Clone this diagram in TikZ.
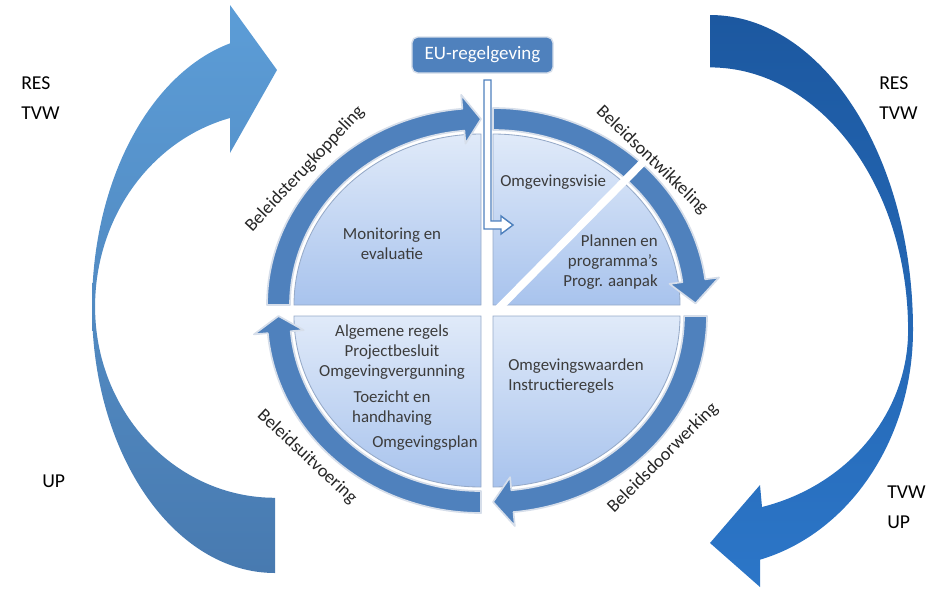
\documentclass[tikz,border=0pt]{standalone}
\usepackage{fontspec}
\setmainfont{Carlito}
\definecolor{ringblue}{RGB}{79,129,189}
\definecolor{ringedge}{RGB}{214,222,234}
\definecolor{quadtop}{RGB}{224,234,249}
\definecolor{quadbot}{RGB}{168,195,237}
\definecolor{quadedge}{RGB}{150,170,200}
\definecolor{lefttop}{RGB}{92,157,215}
\definecolor{leftbot}{RGB}{72,122,176}
\definecolor{righttop}{RGB}{28,88,160}
\definecolor{rightbot}{RGB}{44,118,200}
\definecolor{textgray}{RGB}{60,60,60}

\begin{document}
\begin{tikzpicture}[x=0.025cm,y=-0.025cm,
  ringarrow/.style={fill=ringblue,draw=ringedge,line width=1.2pt,line join=round},
  quadrant/.style={top color=quadtop,bottom color=quadbot,draw=quadedge,line width=0.6pt},
  quadtext/.style={text=textgray,font=\fontsize{12}{14.2}\selectfont,align=center,inner sep=0pt},
  ringlabel/.style={text=black!85,font=\fontsize{13}{15}\selectfont,inner sep=0pt},
  sidelabel/.style={font=\fontsize{14}{21}\selectfont,align=left,anchor=west,inner sep=0pt},
  eubox/.style={rounded corners=4pt,fill=ringblue,draw=ringedge,line width=1pt,text=white,
    minimum width=3.525cm,minimum height=0.9cm,font=\fontsize{13.5}{16}\selectfont}]
\useasboundingbox (0,0) rectangle (940,588);

% outer arrows
\shade[top color=lefttop,bottom color=leftbot]
  (275,573) arc[start angle=90,end angle=180,x radius=183,y radius=266]
  arc[start angle=180,end angle=255.8,x radius=183,y radius=272]
  -- (230,5) -- (277,70) -- (230,153) -- (230,118)
  arc[start angle=255.5,end angle=180,x radius=180,y radius=195]
  arc[start angle=180,end angle=90,x radius=180,y radius=191] -- cycle;
\shade[top color=righttop,bottom color=rightbot]
  (710,15) arc[start angle=-90,end angle=0,x radius=203,y radius=315]
  arc[start angle=0,end angle=75.7,x radius=203,y radius=237]
  -- (760,587) -- (710,543) -- (760,485) -- (762,507)
  arc[start angle=74.8,end angle=0,x radius=198,y radius=183]
  arc[start angle=0,end angle=-90,x radius=198,y radius=263] -- cycle;

% cycle
\foreach \cx/\cy/\s/\h/\t in {481/305/180/265/270,493/305/270/352.5/359.5,493/316/0/84.5/90,481/316/90/175/180}
{
  \begin{scope}[shift={(\cx,\cy)}]
    \draw[quadrant] (0,0) -- (\s:187 and 171) arc[start angle=\s,delta angle=90,x radius=187,y radius=171] -- cycle;
    \draw[ringarrow] (\s:214 and 197) arc[start angle=\s,end angle=\h,x radius=214,y radius=197]
      -- (\h:228 and 211) -- (\t:202.5 and 186) -- (\h:178 and 162) -- (\h:191 and 175)
      arc[start angle=\h,end angle=\s,x radius=191,y radius=175] -- cycle;
  \end{scope}
}
\draw[white,line width=5.5pt] (495,312) -- (656,149);

\node[eubox] (eu) at (482.5,55) {EU-regelgeving};
\draw[ringblue,fill=white,line width=1pt] (484,80) -- (491,80) -- (491,221) -- (501,221) -- (501,216)
  -- (513,225) -- (501,234) -- (501,229) -- (484,229) -- cycle;

\node[quadtext,anchor=west] (visie) at (500,182) {Omgevingsvisie};
\node[quadtext] (monitor) at (392,244) {Monitoring en\\evaluatie};
\node[quadtext,align=right,anchor=east] (plannen) at (658,262) {Plannen en\\programma’s\\Progr. aanpak};
\node[quadtext] (regels) at (392,352) {Algemene regels\\Projectbesluit\\Omgevingvergunning};
\node[quadtext] (toezicht) at (392,408) {Toezicht en\\handhaving};
\node[quadtext] (plan) at (425,443) {Omgevingsplan};
\node[quadtext,align=left,anchor=west] (waarden) at (508,376) {Omgevingswaarden\\Instructieregels};

\node[ringlabel,rotate=47] (terug) at (305,169) {Beleidsterugkoppeling};
\node[ringlabel,rotate=-44] (ontw) at (652,160) {Beleidsontwikkeling};
\node[ringlabel,rotate=45] (door) at (663,458) {Beleidsdoorwerking};
\node[ringlabel,rotate=-43] (uitv) at (307,457) {Beleidsuitvoering};

\node[sidelabel] (resl) at (21,98) {RES\\TVW};
\node[sidelabel] (upl) at (42,481) {UP};
\node[sidelabel] (resr) at (879,98) {RES\\TVW};
\node[sidelabel] (tvwr) at (887,507) {TVW\\UP};
\end{tikzpicture}
\end{document}
